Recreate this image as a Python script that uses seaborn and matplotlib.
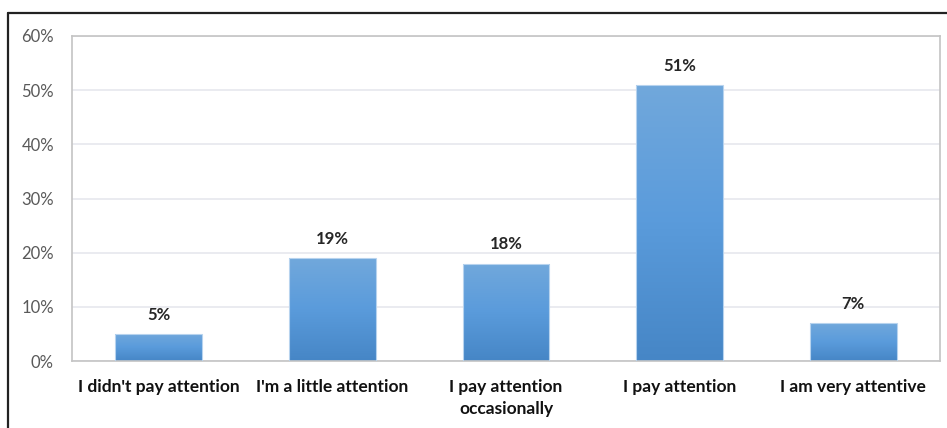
import numpy as np
import pandas as pd
import matplotlib
matplotlib.use("Agg")
import matplotlib.pyplot as plt
from matplotlib.colors import LinearSegmentedColormap
from matplotlib.patches import Rectangle
import seaborn as sns

categories = ["I didn't pay attention", "I'm a little attention",
              "I pay attention\noccasionally", "I pay attention",
              "I am very attentive"]
values = [5, 19, 18, 51, 7]
y_ticks = [0, 10, 20, 30, 40, 50, 60]
y_tick_labels = ["0%", "10%", "20%", "30%", "40%", "50%", "60%"]

sns.set_theme(style="white")
plt.rcParams["font.family"] = ["Lato", "DejaVu Sans"]

df = pd.DataFrame({"category": categories, "value": values})

fig = plt.figure(figsize=(9.47, 4.28), dpi=100)
ax = fig.add_axes([72 / 947, 1 - 361 / 428, (940 - 72) / 947, (361 - 36) / 428])

sns.barplot(data=df, x="category", y="value", ax=ax, color="#5b9bd5",
            width=0.5, saturation=1, zorder=3)

# vertical gradient fill for each bar
grad = LinearSegmentedColormap.from_list("bar", ["#4686c6", "#5a9bdb", "#71a8dc"])
gimg = np.linspace(0, 1, 256).reshape(-1, 1)
for p in ax.patches:
    x0, y0 = p.get_x(), p.get_y()
    w, h = p.get_width(), p.get_height()
    p.set_facecolor("none")
    p.set_edgecolor("#b7d3ee")
    p.set_linewidth(0.8)
    im = ax.imshow(gimg, cmap=grad, origin="lower", aspect="auto",
                   extent=(x0, x0 + w, y0, y0 + h), zorder=2.5,
                   interpolation="bilinear")
    clip = Rectangle((x0, y0), w, h, transform=ax.transData)
    im.set_clip_path(clip)
    ax.annotate(f"{int(round(h))}%", (x0 + w / 2, y0 + h), xytext=(0, 8),
                textcoords="offset points", ha="center", va="bottom",
                fontsize=12, fontweight="bold", color="#262626")

ax.set_xlim(-0.5, len(categories) - 0.5)
ax.set_ylim(0, 60)
ax.set_yticks(y_ticks)
ax.set_yticklabels(y_tick_labels)
ax.yaxis.grid(True, color="#e6e8ee", linewidth=1.2, zorder=0)
ax.set_axisbelow(True)
ax.set_xlabel("")
ax.set_ylabel("")
ax.tick_params(axis="y", length=0, pad=13, labelsize=12, labelcolor="#595959")
ax.tick_params(axis="x", length=0, pad=13, labelsize=12.5)
for lbl in ax.get_xticklabels():
    lbl.set_fontweight("bold")
    lbl.set_color("#111111")
    lbl.set_linespacing(1.45)
for s in ax.spines.values():
    s.set_visible(True)
    s.set_color("#c4c4c4")
    s.set_linewidth(1.2)

# outer frame lines along the top and left edges
fig.add_artist(plt.Line2D([8 / 947, 1], [1 - 13 / 428, 1 - 13 / 428],
                          transform=fig.transFigure, color="#222222", linewidth=1.6))
fig.add_artist(plt.Line2D([8 / 947, 8 / 947], [0, 1 - 13 / 428],
                          transform=fig.transFigure, color="#222222", linewidth=1.6))

fig.savefig("out.png", dpi=100, facecolor="white")
